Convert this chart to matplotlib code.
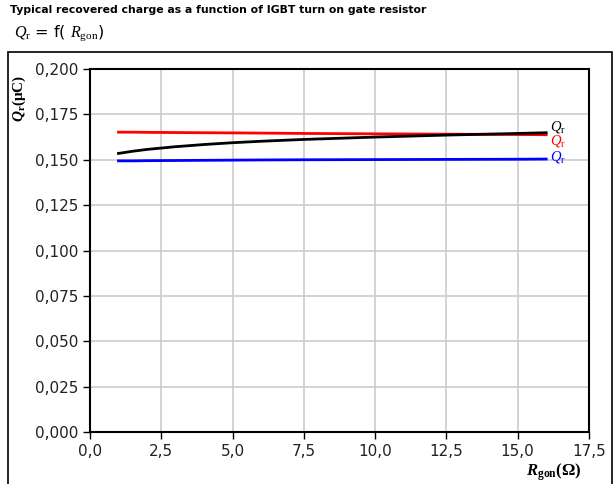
import matplotlib.pyplot as plt
from matplotlib.patches import Rectangle
from matplotlib.ticker import FuncFormatter

plt.rcParams['font.family'] = ['DejaVu Sans']
plt.rcParams['mathtext.fontset'] = 'custom'
plt.rcParams['mathtext.rm'] = 'Liberation Serif'
plt.rcParams['mathtext.it'] = 'Liberation Serif:italic'
plt.rcParams['mathtext.bf'] = 'Liberation Serif:bold'
plt.rcParams['mathtext.bfit'] = 'Liberation Serif:italic:bold'

# recovered charge vs gate resistor, three curves
r_gon = [1.0, 1.5, 2.0, 3.0, 4.0, 5.0, 6.0, 7.5, 10.0, 12.5, 15.0, 16.0]
qr_black = [0.1535, 0.1547, 0.1557, 0.1572, 0.1584, 0.1594, 0.1602, 0.1612,
            0.1625, 0.1636, 0.1645, 0.1649]
qr_red = [0.1652, 0.1652, 0.1651, 0.1650, 0.1649, 0.1648, 0.1647, 0.1645,
          0.1643, 0.1641, 0.1639, 0.1638]
qr_blue = [0.1494, 0.1494, 0.1495, 0.1496, 0.1497, 0.1498, 0.1499, 0.1500,
           0.1501, 0.1502, 0.1503, 0.1504]

x_ticks = [0.0, 2.5, 5.0, 7.5, 10.0, 12.5, 15.0, 17.5]
y_ticks = [0.000, 0.025, 0.050, 0.075, 0.100, 0.125, 0.150, 0.175, 0.200]

fig = plt.figure(figsize=(6.16, 4.84), dpi=100)
ax = fig.add_axes([0.1461, 0.1074, 0.8100, 0.7500])

# outer frame around the diagram
fig.patches.append(Rectangle((8 / 616, -0.05), 604 / 616, 1 - 52 / 484 + 0.05,
                             transform=fig.transFigure, fill=False,
                             edgecolor='black', linewidth=1.2))

ax.plot(r_gon, qr_red, color='red', linewidth=2)
ax.plot(r_gon, qr_black, color='black', linewidth=2)
ax.plot(r_gon, qr_blue, color='blue', linewidth=2)

label_kw = dict(fontsize=10.5, va='center', ha='left')
ax.text(16.15, 0.1683, r'$Q_{\mathrm{r}}$', color='black', **label_kw)
ax.text(16.15, 0.1603, r'$Q_{\mathrm{r}}$', color='red', **label_kw)
ax.text(16.15, 0.1518, r'$Q_{\mathrm{r}}$', color='blue', **label_kw)

ax.set_xlim(0, 17.5)
ax.set_ylim(0, 0.2)
ax.set_xticks(x_ticks)
ax.set_yticks(y_ticks)
ax.xaxis.set_major_formatter(FuncFormatter(lambda v, p: f'{v:.1f}'.replace('.', ',')))
ax.yaxis.set_major_formatter(FuncFormatter(lambda v, p: f'{v:.3f}'.replace('.', ',')))
ax.tick_params(labelsize=11, color='black', labelcolor='#222222',
               length=5, width=1, direction='out')
ax.grid(True, color='#cccccc', linewidth=1.2)
ax.set_axisbelow(True)
for s in ax.spines.values():
    s.set_linewidth(1.5)

ax.set_xlabel(r'$\mathbfit{R}_{\mathbf{gon}}$(Ω)', fontsize=12,
              fontfamily='Liberation Serif', fontweight='bold')
ax.xaxis.set_label_coords(0.93, -0.08)
ax.set_ylabel(r'$\mathbfit{Q}_{\mathbf{r}}$(μC)', fontsize=11,
              fontfamily='Liberation Serif', fontweight='bold')
ax.yaxis.set_label_coords(-0.125, 0.92)

fig.text(10 / 616, 1 - 10 / 484, 'Typical recovered charge as a function of IGBT turn on gate resistor',
         fontsize=7.8, fontweight='bold', va='center', ha='left')
fig.text(14 / 616, 1 - 33 / 484, r'$Q_{\mathrm{r}}$ = f( $R_{\mathrm{gon}}$)',
         fontsize=11.5, va='center', ha='left')

fig.savefig('out.png', dpi=100)
